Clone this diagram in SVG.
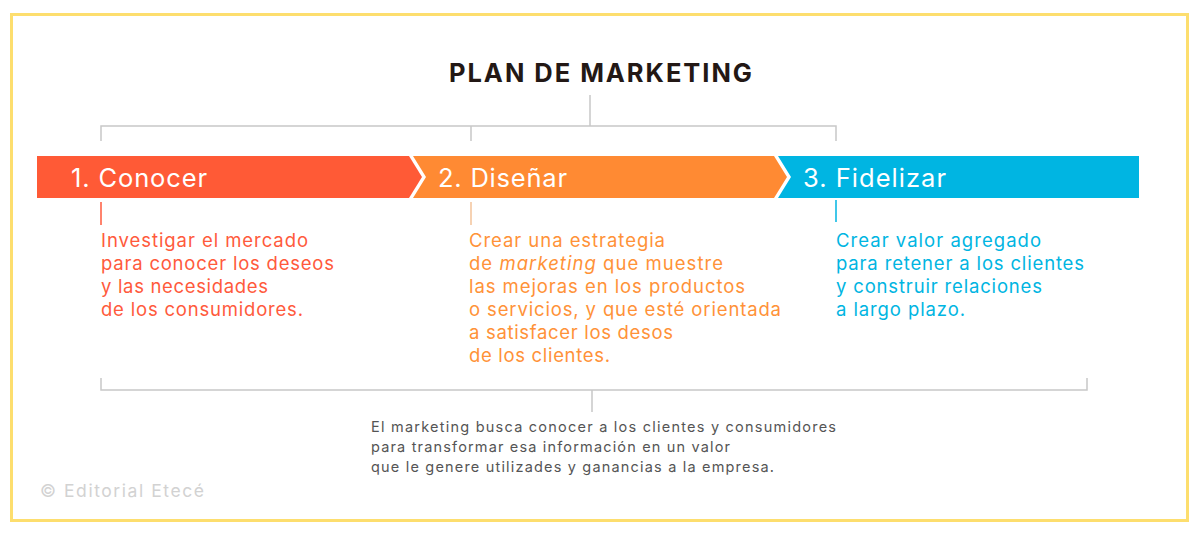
<svg xmlns="http://www.w3.org/2000/svg" width="1200" height="533" viewBox="0 0 1200 533">
<style>
.t{font-family:Inter,"Liberation Sans",sans-serif}
.title{font-size:25.5px;font-weight:700;fill:#231815}
.bar{font-size:25.5px;fill:#ffffff}
.body{font-size:18.5px}
.red{fill:#FF5A3C}
.org{fill:#FF9238}
.blu{fill:#00B5E2}
.foot{font-size:14.5px;fill:#555555}
.copy{font-size:17.5px;fill:#D2D2D2}
.br{stroke:#C8C8C8;stroke-width:1.5;fill:none}
</style>
<rect x="11.5" y="14.5" width="1176" height="506" fill="#ffffff" stroke="#FDDE6E" stroke-width="3"/>
<g id="title">
<text class="t title" x="449" y="82" textLength="303" lengthAdjust="spacing">PLAN DE MARKETING</text>
</g>
<g id="connectors">
<path class="br" d="M590 95V126M101 141V126H836V141M471 126V141"/>
<path class="br" d="M101 378V390H1087V378M592 390V412"/>
<line x1="101" y1="202" x2="101" y2="225" stroke="#FF5A3C" stroke-width="1.5"/>
<line x1="471" y1="202" x2="471" y2="225" stroke="#F3C39A" stroke-width="1.5"/>
<line x1="836" y1="200" x2="836" y2="222" stroke="#00B5E2" stroke-width="1.5"/>
</g>
<g id="step1">
<polygon points="37,156 409,156 422,177 409,198 37,198" fill="#FF5A36"/>
<text class="t bar" x="71" y="187" textLength="136" lengthAdjust="spacing">1. Conocer</text>
<text class="t body red" x="101" y="247" textLength="207" lengthAdjust="spacing">Investigar el mercado</text>
<text class="t body red" x="101" y="270" textLength="233" lengthAdjust="spacing">para conocer los deseos</text>
<text class="t body red" x="101" y="293" textLength="167" lengthAdjust="spacing">y las necesidades</text>
<text class="t body red" x="101" y="316" textLength="202" lengthAdjust="spacing">de los consumidores.</text>
</g>
<g id="step2">
<polygon points="413,156 774,156 787,177 774,198 413,198 426,177" fill="#FF8A33"/>
<text class="t bar" x="438" y="187" textLength="129" lengthAdjust="spacing">2. Diseñar</text>
<text class="t body org" x="469" y="247" textLength="196" lengthAdjust="spacing">Crear una estrategia</text>
<text class="t body org" x="469" y="270" textLength="254" lengthAdjust="spacing">de <tspan font-style="italic">marketing</tspan> que muestre</text>
<text class="t body org" x="469" y="293" textLength="276" lengthAdjust="spacing">las mejoras en los productos</text>
<text class="t body org" x="469" y="316" textLength="312" lengthAdjust="spacing">o servicios, y que esté orientada</text>
<text class="t body org" x="469" y="339" textLength="204" lengthAdjust="spacing">a satisfacer los desos</text>
<text class="t body org" x="469" y="362" textLength="141" lengthAdjust="spacing">de los clientes.</text>
</g>
<g id="step3">
<polygon points="778,156 1139,156 1139,198 778,198 791,177" fill="#00B5E2"/>
<text class="t bar" x="803" y="187" textLength="143" lengthAdjust="spacing">3. Fidelizar</text>
<text class="t body blu" x="836" y="247" textLength="205" lengthAdjust="spacing">Crear valor agregado</text>
<text class="t body blu" x="836" y="270" textLength="248" lengthAdjust="spacing">para retener a los clientes</text>
<text class="t body blu" x="836" y="293" textLength="206" lengthAdjust="spacing">y construir relaciones</text>
<text class="t body blu" x="836" y="316" textLength="129" lengthAdjust="spacing">a largo plazo.</text>
</g>
<g id="summary">
<text class="t foot" x="371" y="432" textLength="465" lengthAdjust="spacing">El marketing busca conocer a los clientes y consumidores</text>
<text class="t foot" x="371" y="452" textLength="359" lengthAdjust="spacing">para transformar esa información en un valor</text>
<text class="t foot" x="371" y="472" textLength="403" lengthAdjust="spacing">que le genere utilizades y ganancias a la empresa.</text>
</g>
<g id="credit">
<text class="t copy" x="40" y="497" textLength="164" lengthAdjust="spacing">© Editorial Etecé</text>
</g>
</svg>
